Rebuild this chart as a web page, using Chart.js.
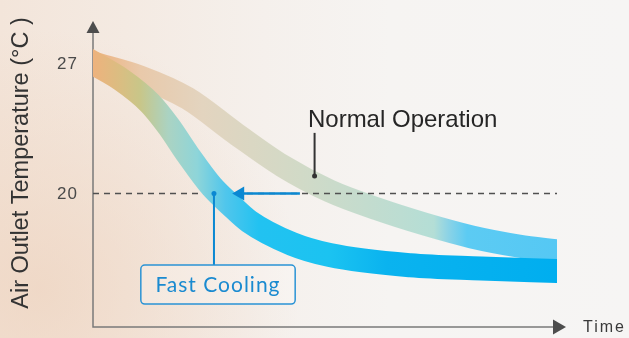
<!DOCTYPE html>
<html>
<head>
<meta charset="utf-8">
<script src="https://cdn.jsdelivr.net/npm/chart.js@4"></script>
<style>
html,body{margin:0;padding:0;width:629px;height:338px;overflow:hidden;}
body{
  background:
    radial-gradient(ellipse 260px 260px at 40px 290px, rgba(238,212,192,0.75), rgba(238,212,192,0) 100%),
    linear-gradient(90deg,#F3E5DA 0%,#F4EAE2 20%,#F5F0EC 42%,#F6F4F2 62%,#F6F5F4 100%);
}
#wrap{position:absolute;left:0;top:0;width:629px;height:338px;}
</style>
</head>
<body>
<div id="wrap"><canvas id="c" width="629" height="338"></canvas></div>
<script>
// ---- data ----
const normalTime  = [0, 10, 20, 30, 40, 50, 60, 70, 80, 90, 98];
const normalTemp  = [27.0, 26.25, 25.1, 23.24, 21.48, 20.13, 19.17, 18.36, 17.67, 17.18, 16.92];
const fastTime    = [0, 6, 12, 16, 20, 25, 29, 33, 42, 50, 67, 82, 98];
const fastTemp    = [27.0, 26.1, 24.85, 23.6, 22.1, 20.4, 19.4, 18.5, 17.3, 16.7, 16.15, 15.98, 15.84];
const tickValues  = [27, 20];
const targetTemp  = 20;
const yAxisTitle  = 'Air Outlet Temperature (°C )';
const xAxisTitle  = 'Time';
const normalLabel = 'Normal Operation';
const fastLabel   = 'Fast Cooling';
const arrowFromTo = [43.7, 29.4];        // time values of the blue arrow (start, tip)
const normalPointer = {x: 46.8, yFrom: 20.94, yTo: 23.25};
const fastPointer   = {x: 25.55, yFrom: 20.0, yTo: 16.16};
const fastBox       = {x0: 10.1, x1: 42.7, y0: 16.16, y1: 14.07};
const normalText    = {x: 45.4, y: 23.57};

const toPts = (xs, ys) => xs.map((x, i) => ({x, y: ys[i]}));

function hGrad(chart, stops) {
  const {ctx, chartArea, scales} = chart;
  if (!chartArea) return null;
  const x0 = scales.x.getPixelForValue(0), x1 = scales.x.getPixelForValue(98);
  const g = ctx.createLinearGradient(x0, 0, x1, 0);
  stops.forEach(([v, c]) => g.addColorStop(Math.min(1, v / 98), c));
  return g;
}
const normalStops = [[0,'#EDB27E'],[10,'#E9C9AA'],[23,'#E3D4BF'],[44,'#D1DAC7'],[65,'#BCDDD2'],[72,'#B4DED6'],[75,'#8CD3E6'],[79,'#5CCBF3'],[98,'#55C8F4']];
const fastStops   = [[0,'#EEB27D'],[6,'#D9BE82'],[10,'#C8C689'],[16,'#AAD3C3'],[22,'#8ED5D9'],[28,'#50C6EC'],[35,'#22C2F1'],[50,'#1BC3F1'],[62,'#0AB3EF'],[98,'#00AEEF']];

const BLUE = '#0B88D2';
const AXIS_EXT = 9; // x axis continues past the last data column to the arrow tip

const axesPlugin = {
  id: 'axesPlugin',
  beforeDatasetsDraw(chart) {
    const {ctx, chartArea: a} = chart;
    ctx.save();
    ctx.strokeStyle = '#7a7a7a';
    ctx.lineWidth = 1.5;
    ctx.beginPath();
    ctx.moveTo(a.left, a.top + 8);
    ctx.lineTo(a.left, a.bottom);
    ctx.lineTo(a.right + AXIS_EXT - 8, a.bottom);
    ctx.stroke();
    ctx.restore();
  }
};

const overlay = {
  id: 'overlay',
  afterDraw(chart) {
    const {ctx, chartArea: a, scales: {x, y}} = chart;
    const xr = a.right + AXIS_EXT;
    ctx.save();
    // axis arrowheads
    ctx.fillStyle = '#4d4d4d';
    ctx.beginPath();
    ctx.moveTo(a.left, a.top);
    ctx.lineTo(a.left - 6.5, a.top + 12);
    ctx.lineTo(a.left + 6.5, a.top + 12);
    ctx.closePath(); ctx.fill();
    ctx.beginPath();
    ctx.moveTo(xr, a.bottom);
    ctx.lineTo(xr - 13, a.bottom - 7.5);
    ctx.lineTo(xr - 13, a.bottom + 7.5);
    ctx.closePath(); ctx.fill();

    // tick labels
    ctx.fillStyle = '#4a4a4a';
    ctx.font = '17px "Liberation Sans", Arial, sans-serif';
    ctx.letterSpacing = '1px';
    ctx.textAlign = 'right';
    ctx.textBaseline = 'middle';
    tickValues.forEach(v => ctx.fillText(String(v), a.left - 15, y.getPixelForValue(v) + 1));

    // x title
    ctx.letterSpacing = '2px';
    ctx.textAlign = 'left';
    ctx.font = '16px "Liberation Sans", Arial, sans-serif';
    ctx.fillStyle = '#3a3a3a';
    ctx.fillText(xAxisTitle, xr + 17, a.bottom + 1);

    // y title
    ctx.letterSpacing = '0px';
    ctx.save();
    ctx.translate(22, (a.top + a.bottom) / 2 - 11);
    ctx.rotate(-Math.PI / 2);
    ctx.textAlign = 'center';
    ctx.font = '23.5px "Liberation Sans", Arial, sans-serif';
    ctx.fillStyle = '#333';
    ctx.fillText(yAxisTitle, 0, 0);
    ctx.restore();

    // blue arrowhead
    const tipX = x.getPixelForValue(arrowFromTo[1]), ay = y.getPixelForValue(targetTemp);
    ctx.fillStyle = BLUE;
    ctx.beginPath();
    ctx.moveTo(tipX, ay);
    ctx.lineTo(tipX + 12, ay - 7);
    ctx.lineTo(tipX + 12, ay + 7);
    ctx.closePath(); ctx.fill();

    // normal operation label
    ctx.fillStyle = '#262626';
    ctx.font = '24px "Liberation Sans", Arial, sans-serif';
    ctx.textAlign = 'left';
    ctx.textBaseline = 'alphabetic';
    ctx.fillText(normalLabel, x.getPixelForValue(normalText.x), y.getPixelForValue(normalText.y));

    // fast cooling box
    const bx0 = x.getPixelForValue(fastBox.x0), bx1 = x.getPixelForValue(fastBox.x1);
    const by0 = y.getPixelForValue(fastBox.y0), by1 = y.getPixelForValue(fastBox.y1);
    ctx.fillStyle = 'rgba(255,255,255,0.25)';
    ctx.strokeStyle = '#2A93D5';
    ctx.lineWidth = 1.5;
    ctx.beginPath();
    ctx.roundRect(bx0, by0, bx1 - bx0, by1 - by0, 4);
    ctx.fill(); ctx.stroke();
    ctx.fillStyle = '#1A8AD0';
    ctx.font = '21px Lato, "Open Sans", sans-serif';
    ctx.letterSpacing = '1px';
    ctx.textAlign = 'center';
    ctx.textBaseline = 'middle';
    ctx.fillText(fastLabel, (bx0 + bx1) / 2, (by0 + by1) / 2 + 1);
    ctx.restore();
  }
};

const bandClip = {left: 0, right: 0, top: false, bottom: false};

new Chart(document.getElementById('c'), {
  type: 'line',
  data: {
    datasets: [
      { // blue arrow shaft
        data: [{x: arrowFromTo[0], y: targetTemp}, {x: arrowFromTo[1] + 1, y: targetTemp}],
        borderColor: BLUE, borderWidth: 2.5, pointRadius: 0, order: 0, clip: false
      },
      { // fast pointer
        data: [{x: fastPointer.x, y: fastPointer.yFrom}, {x: fastPointer.x, y: fastPointer.yTo}],
        borderColor: BLUE, borderWidth: 2, pointRadius: [2.5, 0], pointBackgroundColor: BLUE, pointBorderWidth: 0, order: 0, clip: false
      },
      { // normal pointer
        data: [{x: normalPointer.x, y: normalPointer.yFrom}, {x: normalPointer.x, y: normalPointer.yTo}],
        borderColor: '#333', borderWidth: 2, pointRadius: [2.5, 0], pointBackgroundColor: '#333', pointBorderWidth: 0, order: 0, clip: false
      },
      { // fast cooling band
        data: toPts(fastTime, fastTemp),
        borderColor: c => hGrad(c.chart, fastStops),
        borderWidth: 24, borderCapStyle: 'square', pointRadius: 0,
        cubicInterpolationMode: 'monotone', order: 1, clip: bandClip
      },
      { // target dashed line
        data: [{x: 0, y: targetTemp}, {x: 98, y: targetTemp}],
        borderColor: '#505050', borderWidth: 1.3, borderDash: [6, 5], pointRadius: 0, order: 2, clip: false
      },
      { // normal band
        data: toPts(normalTime, normalTemp),
        borderColor: c => hGrad(c.chart, normalStops),
        borderWidth: 23, borderCapStyle: 'square', pointRadius: 0,
        cubicInterpolationMode: 'monotone', order: 3, clip: bandClip
      }
    ]
  },
  options: {
    responsive: false,
    animation: false,
    devicePixelRatio: 1,
    layout: {padding: {left: 93, right: 72, top: 21, bottom: 11}},
    plugins: {legend: {display: false}, tooltip: {enabled: false}},
    scales: {
      x: {type: 'linear', min: 0, max: 98, display: false},
      y: {type: 'linear', min: 12.84, max: 29.25, display: false}
    }
  },
  plugins: [axesPlugin, overlay]
});
</script>
</body>
</html>
